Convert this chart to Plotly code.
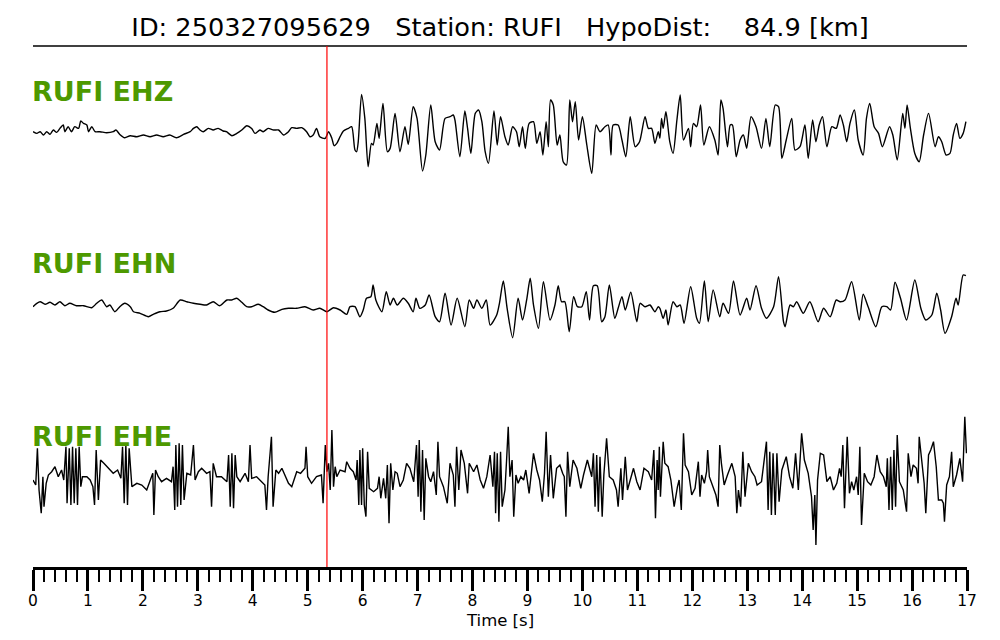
import plotly.graph_objects as go

# ---------------- data (amplitudes in normalized display units) ----------------
TITLE = "ID: 250327095629   Station: RUFI   HypoDist:    84.9 [km]"
CHANNELS = ["RUFI EHZ", "RUFI EHN", "RUFI EHE"]
PICK_TIME = 5.35
TICK_VALUES = list(range(0, 18))
TICK_LABELS = [str(v) for v in TICK_VALUES]

ehz_t = [0.00,0.07,0.13,0.19,0.25,0.31,0.37,0.43,0.49,0.55,0.58,0.64,0.70,0.76,0.83,0.87,0.92,0.98,1.01,1.07,
         1.13,1.22,1.34,1.46,1.51,1.58,1.67,1.77,1.89,2.01,2.13,2.25,2.37,2.49,2.61,2.74,2.86,2.92,2.98,3.04,
         3.10,3.19,3.28,3.37,3.46,3.52,3.62,3.71,3.80,3.89,3.98,4.04,4.13,4.19,4.28,4.38,4.47,4.56,4.65,4.71,
         4.80,4.89,4.98,5.04,5.10,5.16,5.22,5.32,5.38,5.44,5.48,5.53,5.59,5.65,5.74,
         5.80,5.86,5.89,5.92,5.98,6.04,6.10,6.16,6.19,6.26,6.30,6.37,6.45,6.50,6.59,6.68,6.77,6.83,6.92,6.99,
         7.09,7.15,7.24,7.32,7.40,7.50,7.59,7.65,7.68,7.77,7.86,7.91,7.97,8.05,8.11,8.17,8.23,8.29,8.39,8.45,
         8.51,8.59,8.65,8.73,8.80,8.85,8.91,8.96,9.03,9.11,9.17,9.23,9.28,9.34,9.38,9.42,9.47,9.54,9.59,9.65,
         9.71,9.77,9.82,9.87,9.93,10.00,10.08,10.17,10.25,10.32,10.41,10.47,10.52,10.56,10.65,10.72,10.79,10.87,10.96,11.04,
         11.14,11.20,11.26,11.32,11.38,
         11.41,11.44,11.47,11.52,11.59,11.65,11.72,11.78,11.84,11.93,11.97,12.02,12.08,12.15,12.21,12.31,12.41,12.47,12.52,12.56,
         12.64,12.69,12.73,12.80,12.87,12.93,12.99,13.07,13.16,13.26,13.34,13.41,13.51,13.57,13.63,13.71,13.81,13.87,13.96,14.05,
         14.11,14.19,14.25,14.31,14.37,14.45,14.54,14.62,14.69,14.75,14.81,14.87,14.95,15.02,15.11,15.17,15.23,15.31,15.39,15.46,
         15.59,15.65,15.73,15.83,15.87,15.91,15.97,16.05,16.13,16.21,16.30,16.42,16.48,16.54,16.62,16.69,16.75,16.81,16.87,16.93,
         16.98]
ehz_a = [0,-1.7,0,-3.3,0,-2.7,1.7,-0.7,3.3,6.7,0,5,0,5,3.3,10.7,8.3,6.7,0,5,
         0,0,-1,0,1.7,-2.7,-6,-4,-5,-3.3,-5,-3.3,-5,-3.3,-6,-2.7,0,3.3,5,1.7,
         0,3.3,1.7,3.3,0.7,0,-4,-1.7,1.7,6,3.3,-1.7,1.7,0,3.3,1.7,1.7,-3.3,0,4,
         3.3,4,0,-5,-3.3,3.3,-5,-6.7,0,-6.7,-14,-11.7,-5,0.7,3.3,
         5,-18.3,-20,-10,37.3,13.3,-35,-11.7,-13.3,8.3,-6.7,28.3,-20,-16.7,18.3,-20,5,-12.7,25,13.3,
         -39.3,-23.3,26.7,-10,-18.3,13.3,15,16.7,11.7,-25,20.7,3.3,-21.7,18.3,21.7,10,-20,-31.7,20.7,-13.3,
         15,-5,-13.3,5,0,-15,5,-16.7,8.3,10,-11.7,0,-23.3,10,-15,31.7,26.7,-13.3,-3.3,-30,
         -33.3,31.7,10,30,-8.3,15,-13.3,-41.7,6.7,0,5,6.7,-23.3,6.7,6.7,-8.3,-25,15,-15,-10,
         15,3.3,3.3,-11.7,0,
         -6.7,13.3,3.3,20,-10,-21.7,11.7,36.7,-8.3,3.3,-15,8.3,5,26.7,-13.3,5,-8.3,-23.3,31.7,23.3,
         -15,6.7,6.7,-25,-8.3,-3.3,-16.7,15,5,-16.7,13.3,-15,26.7,25,-26.7,-8.3,13.3,-18.3,-15,6.7,
         -26.7,11.7,-10,6.7,15,-15,5,3.3,16.7,6.7,-10,8.3,21.7,-8.3,-23.3,13.3,28.3,5,-1.7,-15,
         5,-3.3,-28.3,18.3,3.3,26.7,3.3,-21.7,-30,-3.3,18.3,-15,-5,-10,-23.3,-21.7,-3.3,8.3,-6.7,-1.7,
         10]

ehn_t = [0.00,0.07,0.13,0.22,0.31,0.40,0.49,0.58,0.67,0.79,0.92,1.07,1.16,1.25,1.34,1.40,1.49,1.58,1.67,1.77,
         1.83,1.95,2.10,2.19,2.31,2.43,2.55,2.68,2.80,2.92,3.04,3.16,3.28,3.40,3.53,3.62,3.71,3.80,3.89,3.98,
         4.10,4.19,4.28,4.40,4.53,4.65,4.80,4.95,5.10,5.22,5.35,5.47,5.59,5.71,
         5.77,5.86,5.95,6.01,6.07,6.15,6.19,6.24,6.35,6.43,6.50,6.56,6.63,6.74,6.83,6.92,6.97,7.04,7.14,7.21,
         7.32,7.40,7.50,7.61,7.72,7.86,7.94,8.02,8.08,8.17,8.25,8.32,8.44,8.49,8.56,8.63,8.73,8.83,8.91,8.99,
         9.05,9.11,9.20,9.29,9.41,9.50,9.56,9.62,9.68,9.76,9.84,9.91,9.99,10.07,10.13,10.20,10.27,10.35,10.41,10.49,
         10.59,10.65,10.72,10.78,10.88,10.99,11.05,11.14,11.23,11.32,11.38,
         11.41,11.47,11.52,11.56,11.65,11.72,11.78,11.85,11.97,12.08,12.13,12.22,12.29,12.38,12.50,12.56,12.66,12.75,12.87,12.99,
         13.05,13.16,13.26,13.35,13.48,13.57,13.66,13.69,13.78,13.84,13.90,14.02,14.14,14.29,14.39,14.51,14.62,14.69,14.78,14.90,
         15.04,15.11,15.20,15.34,15.45,15.54,15.61,15.69,15.79,15.90,16.05,16.16,16.25,16.36,16.45,16.52,16.60,16.72,16.80,16.84,
         16.93,16.98]
ehn_a = [-1.7,1.7,3.3,0.7,2.7,0,3.3,-0.7,1.7,-0.7,-0.7,-2.7,1.7,5,-1.7,0,-6.7,-1.7,1.7,-1.7,
         -6.7,-8.3,-11.7,-9.3,-6.7,-6,-3.3,5,3.3,1.7,0.7,0,3.3,-0.7,5,5,6.7,2.7,-1.7,-1.7,
         0.7,-1.7,-5,-7.3,-4.3,-3.3,-3.3,-1.7,-5,-3.3,-6.7,-2.7,-5,-9.3,
         -1.7,-1.7,-11.7,-5,6.7,8.3,20,5,-6.7,13.3,0,6.7,0,6.7,1.7,-6.7,6.7,-3.3,0,10,
         -11.7,-16.7,11.7,-20,6.7,-21.7,5,-3.3,5,-3.3,5,-20,-10,1.7,24,-3.3,-32.7,6.7,-15,6.7,
         26.7,0,-23.3,23.3,-15,0,19.3,3.3,3.3,-26.7,8.3,-1.7,-1.7,13.3,-15,19.3,19.3,-16.7,-11.7,20,
         -13.3,-3.3,8.3,-5,12.7,-16.7,1.7,-1.7,0,-6.7,-1.7,
         -3.3,-13.3,-5,-20,3.3,-1.7,0,-18.3,18.3,-13.3,-18.3,24,-16.7,15,-11.7,1.7,-8.3,24,-10,6.7,
         -5,19.3,-3.3,-13.3,-1.7,28.3,-16.7,-21.7,0,-1.7,3.3,-8.3,3.3,-16.7,-3.3,-11.7,5,3.3,5,23.3,
         -15,10.7,-1.7,-21.7,-1.7,-1.7,-5,22.7,6.7,-15,25,-3.3,-15,-10,11.7,-5,-28.3,-11.7,6.7,0,
         30,29.3]

ehe_t = [0.00,0.05,0.08,0.11,0.15,0.18,0.20,0.24,0.28,0.34,0.40,0.46,0.52,0.56,0.60,0.62,0.66,0.69,0.72,0.75,
         0.78,0.81,0.84,0.87,0.90,0.98,1.04,1.09,1.12,1.15,1.19,1.23,1.29,1.37,1.46,1.54,1.60,1.63,1.66,1.69,
         1.72,1.75,1.80,1.89,1.98,2.07,2.13,2.18,2.20,2.23,2.28,2.34,2.43,2.52,2.55,2.58,2.60,2.63,2.66,2.69,
         2.72,2.75,2.80,2.87,2.92,2.95,3.01,3.07,3.16,3.22,3.25,3.28,3.34,3.43,3.53,3.56,3.59,3.62,3.65,3.68,
         3.71,3.77,3.86,3.92,3.95,3.98,4.07,4.16,4.22,4.25,4.28,4.34,4.37,4.42,4.47,4.53,4.59,4.65,4.71,4.80,
         4.87,4.95,4.97,5.00,5.07,5.16,5.25,5.28,5.32,5.35,5.38,5.41,5.44,5.47,5.50,5.53,5.59,5.68,5.71,
         5.77,5.83,5.88,5.90,5.93,5.95,5.98,6.00,6.03,6.06,6.09,6.12,6.20,6.27,6.30,6.33,6.38,6.42,6.45,6.48,
         6.51,6.55,6.59,6.63,6.68,6.74,6.80,6.86,6.93,6.98,7.01,7.03,7.06,7.09,7.12,7.15,7.20,7.24,7.29,7.34,
         7.37,7.40,7.47,7.54,7.59,7.65,7.68,7.71,7.75,7.79,7.85,7.91,7.94,8.02,8.08,8.14,8.20,8.26,8.32,8.37,
         8.40,8.42,8.45,8.48,8.51,8.54,8.59,8.62,8.65,8.68,8.72,8.75,8.79,8.83,8.88,8.93,8.97,9.03,9.11,9.17,
         9.22,9.27,9.31,9.34,9.38,9.42,9.47,9.53,9.59,9.64,9.67,9.70,9.73,9.77,9.83,9.90,9.97,10.02,10.09,10.17,
         10.20,10.23,10.26,10.29,10.32,10.36,10.39,10.44,10.49,10.56,10.62,10.65,10.70,10.73,10.78,10.82,10.87,10.93,10.99,11.05,
         11.12,11.20,11.26,11.30,11.33,11.36,
         11.38,11.40,11.42,11.47,11.50,11.56,11.61,11.67,11.73,11.76,11.80,11.84,11.87,11.93,11.99,12.05,12.11,12.14,12.17,12.22,
         12.26,12.28,12.31,12.37,12.43,12.47,12.50,12.53,12.58,12.64,12.72,12.78,12.81,12.84,12.88,12.92,12.96,13.02,13.08,13.14,
         13.18,13.26,13.32,13.35,13.38,13.41,13.44,13.47,13.51,13.54,13.58,13.63,13.71,13.77,13.83,13.88,13.93,13.99,14.04,14.11,
         14.17,14.20,14.23,14.25,14.28,14.33,14.39,14.45,14.51,14.57,14.63,14.68,14.71,14.74,14.77,14.80,14.82,14.86,14.90,14.94,
         14.99,15.02,15.05,15.08,15.13,15.19,15.25,15.31,15.36,15.42,15.48,15.53,15.55,15.58,15.61,15.64,15.67,15.70,15.73,15.77,
         15.84,15.90,15.93,15.98,16.02,16.08,16.11,16.13,16.18,16.22,16.25,16.30,16.34,16.39,16.44,16.48,16.54,16.57,16.59,16.63,
         16.68,16.72,16.75,16.81,16.87,16.92,16.96,16.99]
ehe_a = [0,-5,31.7,-10,-33.3,3.3,-26.7,-3.3,5,8.3,13.3,3.3,10,0,33.3,-23.3,31.7,-25,33.3,-23.3,
         31.7,-25,33.3,-6.7,3.3,3.3,0,-6.7,-25,30,-20,20,16.7,11.7,6.7,10,1.7,33.3,-23.3,35,
         -25,31.7,-6.7,-3.3,-5,-10,-1.7,6.7,-35,10,3.3,-1.7,1.7,-1.7,13.3,-30,35,-26.7,36.7,-25,
         35,-20,6.7,5,35,0,8.3,11.7,6.7,8.3,-26.7,16.7,3.3,3.3,-1.7,25,-26.7,26.7,-28.3,25,
         3.3,-1.7,6.7,-1.7,35,1.7,3.3,-1.7,-5,-30,3.3,43.3,-26.7,10,6.7,11.7,3.3,-3.3,-6.7,8.3,
         6.7,11.7,33.3,3.3,-3.3,3.3,5,-23.3,35,8.3,16.7,-10,50,-6.7,13.3,3.3,10,8.3,18.3,
         11.7,8.3,0,20,-25,30,-25,31.7,-25,-36.7,28.3,-8.3,-11.7,-8.3,3.3,-18.3,1.7,-18.3,15,-43.3,
         16.7,-10,8.3,6.7,-6.7,0,16.7,11.7,-1.7,35,-16.7,40,-31.7,30,-40,21.7,3.3,-1.7,8.3,-15,
         38.3,3.3,-6.7,-23.3,16.7,5,-26.7,33.3,-10,30,16.7,-13.3,16.7,8.3,15,0,-8.3,3.3,25,-6.7,
         28.3,-33.3,26.7,-41.7,28.3,-26.7,-10,20,53.3,3.3,20,-36.7,5,-3.3,3.3,0,10,-13.3,26.7,10,
         0,-21.7,6.7,48.3,-16.7,25,-18.3,11.7,15,6.7,3.3,-36.7,28.3,-6.7,20,11.7,-8.3,5,20,3.3,
         26.7,-26.7,25,-31.7,23.3,-36.7,5,41.7,3.3,0,-10,-26.7,11.7,-20,23.3,-10,0,11.7,-1.7,-10,
         11.7,8.3,0,30,-38.3,20,
         -10,33.3,-16.7,38.3,16.7,13.3,0,-26.7,-6.7,0,-30,46.7,15,8.3,-15,-8.3,18.3,-16.7,5,-3.3,
         8.3,30,3.3,-6.7,-15,-26.7,35,16.7,-5,5,16.7,3.3,-33.3,-10,-26.7,28.3,-16.7,16.7,8.3,3.3,
         -5,-1.7,23.3,38.3,-30,28.3,-35,26.7,-35,26.7,-21.7,10,23.3,3.3,-8.3,26.7,-10,46.7,20,6.7,
         -16.7,-50,-15,-65,0,26.7,25,-1.7,3.3,-10,-3.3,11.7,3.3,35,-28.3,30,43.3,-13.3,-1.7,-10,
         3.3,-15,33.3,-45,6.7,-1.7,-5,3.3,25,8.3,3.3,-6.7,21.7,-30,23.3,-30,30,-26.7,45,-1.7,
         -10,-31.7,26.7,3.3,15,11.7,-3.3,43.3,16.7,-3.3,-33.3,25,30,38.3,13.3,-20,-20,-23.3,-41.7,-5,
         3.3,28.3,-6.7,5,21.7,-1.7,63.3,26.7]

assert len(ehz_t) == len(ehz_a), (len(ehz_t), len(ehz_a))
assert len(ehn_t) == len(ehn_a), (len(ehn_t), len(ehn_a))
assert len(ehe_t) == len(ehe_a), (len(ehe_t), len(ehe_a))

# ---------------- layout constants ----------------
# the page body has an 8 px default margin, so the figure is sized/offset to compensate
FIG_W, FIG_H = 984, 624
BASELINES = [435.3, 262.0, 87.0]       # vertical offsets of each channel on the stacked axis
LABEL_Y = [476.0, 304.0, 131.0]
GREEN = "#4d9900"
FONT = "DejaVu Sans"
SHAPES = ["spline", "spline", "linear"]

fig = go.Figure()
series = [(ehz_t, ehz_a), (ehn_t, ehn_a), (ehe_t, ehe_a)]
for (t, a), base, name, shp in zip(series, BASELINES, CHANNELS, SHAPES):
    line = dict(color="black", width=1.4, shape=shp)
    if shp == "spline":
        line["smoothing"] = 0.7
    fig.add_trace(go.Scatter(x=t, y=[base + v for v in a], mode="lines", name=name,
                             line=line, showlegend=False, hoverinfo="skip"))

for name, ly in zip(CHANNELS, LABEL_Y):
    fig.add_annotation(text="<b>" + name + "</b>", x=-0.0035, xref="paper", xanchor="left",
                       y=ly, yref="y", yanchor="middle", showarrow=False,
                       font=dict(family=FONT, size=27, color=GREEN))

fig.add_annotation(text="Time [s]", x=0.5, xref="paper", xanchor="center",
                   y=-0.103, yref="paper", yanchor="middle", showarrow=False,
                   font=dict(family=FONT, size=16.5, color="black"))

# top rule
fig.add_shape(type="line", xref="paper", yref="paper", x0=0, x1=1, y0=1, y1=1,
              line=dict(color="black", width=1.5))
# P pick
fig.add_shape(type="line", xref="x", yref="paper", x0=PICK_TIME, x1=PICK_TIME, y0=0, y1=1,
              line=dict(color="red", width=1.2))

fig.update_layout(
    width=FIG_W, height=FIG_H,
    margin=dict(l=25, r=25, t=38, b=65),
    paper_bgcolor="white", plot_bgcolor="white",
    title=dict(text=TITLE.replace(" ", "\u00a0"), x=0.5, xanchor="center", y=1 - 19 / FIG_H,
               yanchor="middle", font=dict(family=FONT, size=25.6, color="black")),
    xaxis=dict(range=[0, 17], showline=True, linecolor="black", linewidth=2.5,
               ticks="outside", ticklen=21, tickwidth=2.5, tickcolor="black",
               tickvals=TICK_VALUES, ticktext=TICK_LABELS, ticklabelstandoff=-3,
               tickfont=dict(family=FONT, size=15.5, color="black"),
               minor=dict(dtick=0.2, tick0=0, ticks="outside", ticklen=12, tickwidth=2.2, tickcolor="black"),
               showgrid=False, zeroline=False),
    yaxis=dict(range=[0, 521], visible=False, showgrid=False, zeroline=False),
)

fig.write_html("out.html")
